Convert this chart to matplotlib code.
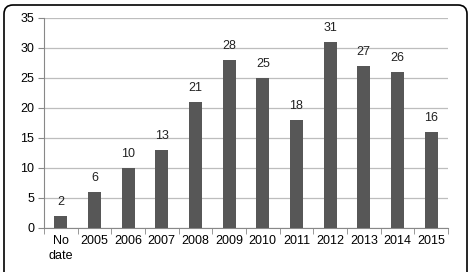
import matplotlib.pyplot as plt
from matplotlib.patches import FancyBboxPatch

categories = ["No\ndate", "2005", "2006", "2007", "2008", "2009", "2010",
              "2011", "2012", "2013", "2014", "2015"]
counts = [2, 6, 10, 13, 21, 28, 25, 18, 31, 27, 26, 16]

plt.rcParams['font.family'] = ['Liberation Sans', 'DejaVu Sans']

fig = plt.figure(figsize=(4.73, 2.72), dpi=100)
ax = fig.add_axes([0.093, 0.162, 0.854, 0.772])

x = range(len(categories))
bars = ax.bar(x, counts, width=0.39, color="#575757", zorder=3)
for b, v in zip(bars, counts):
    ax.text(b.get_x() + b.get_width() / 2, v + 1.4, str(v),
            ha="center", va="bottom", fontsize=9, color="#222222")

ax.set_xlim(-0.5, len(categories) - 0.5)
ax.set_ylim(0, 35)
ax.set_yticks(range(0, 36, 5))
ax.grid(axis="y", color="#bdbdbd", linewidth=0.9, zorder=0)

ax.set_xticks(x)
ax.set_xticklabels(categories, fontsize=9, linespacing=1.3)
ax.set_xticks([i - 0.5 for i in range(len(categories) + 1)], minor=True)
ax.tick_params(axis="x", which="major", length=0, pad=5)
ax.tick_params(axis="x", which="minor", length=4, color="#888888")
ax.tick_params(axis="y", length=4, color="#888888", labelsize=9, pad=3)

for s in ["top", "right"]:
    ax.spines[s].set_visible(False)
ax.spines["left"].set_color("#888888")
ax.spines["bottom"].set_color("#888888")

# rounded frame around the whole figure (drawn in pixels)
border = FancyBboxPatch((4, -15), 463, 282,
                        boxstyle="round,pad=0,rounding_size=9",
                        transform=None, fill=False,
                        edgecolor="black", linewidth=1.2, clip_on=False)
fig.patches.append(border)

fig.savefig("out.png", dpi=100)
